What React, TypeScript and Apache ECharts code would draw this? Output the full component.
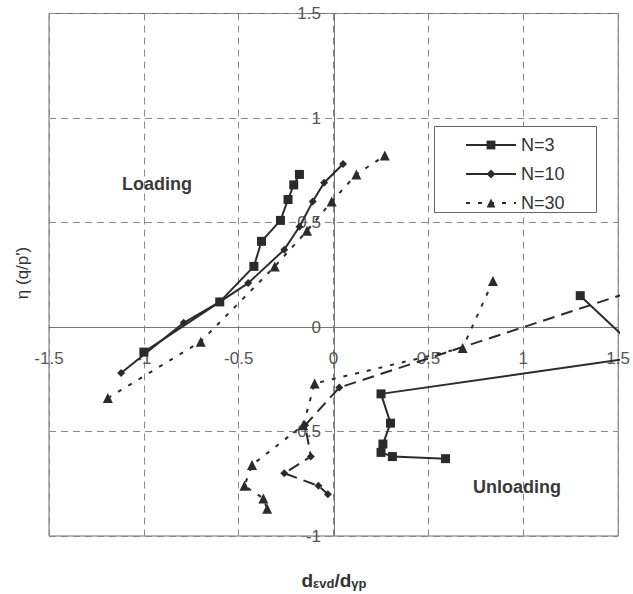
import React, { useEffect, useRef } from "react";
import * as echarts from "echarts";

// Each point: [dεvd/dγp, η]
const n3Loading = [
  [-1.0, -0.12], [-0.6, 0.12], [-0.42, 0.29], [-0.38, 0.41],
  [-0.28, 0.51], [-0.24, 0.61], [-0.21, 0.68], [-0.18, 0.73],
];
const n3Unloading = [
  [1.3, 0.15], [1.64, -0.14], [0.25, -0.32], [0.3, -0.46],
  [0.26, -0.56], [0.25, -0.6], [0.31, -0.62], [0.59, -0.63],
];
const n10Loading = [
  [-1.12, -0.22], [-0.79, 0.02], [-0.6, 0.12], [-0.45, 0.21], [-0.26, 0.37],
  [-0.18, 0.48], [-0.11, 0.6], [-0.05, 0.69], [0.05, 0.78],
];
const n10Unloading = [
  [1.64, 0.19], [0.03, -0.29], [-0.15, -0.47], [-0.12, -0.62],
  [-0.26, -0.7], [-0.08, -0.76], [-0.03, -0.8],
];
const n30Loading = [
  [-1.19, -0.34], [-0.7, -0.07], [-0.31, 0.29], [-0.14, 0.46],
  [-0.01, 0.6], [0.12, 0.73], [0.27, 0.82],
];
const n30Unloading = [
  [0.84, 0.22], [0.68, -0.1], [-0.1, -0.27], [-0.16, -0.47],
  [-0.43, -0.66], [-0.47, -0.76], [-0.37, -0.82], [-0.35, -0.87],
];

const seriesNames = ["N=3", "N=10", "N=30"];
const regionLabels = ["Loading", "Unloading"];

const X_MIN = -1.5;
const X_MAX = 1.5;
const Y_MIN = -1;
const Y_MAX = 1.5;

const INK = "#2b2b2b";
const FONT = '"Liberation Sans", Arial, sans-serif';

// plot box in pixels
const GRID = { left: 49, right: 14, top: 13.5, bottom: 58 };
const W = 633;
const H = 594;

function lineSeries(
  name: string,
  data: number[][],
  symbol: string,
  symbolSize: number,
  type: any
) {
  return {
    name,
    type: "line",
    data,
    symbol,
    symbolSize,
    showSymbol: true,
    clip: true,
    lineStyle: { color: INK, width: 2, type },
    itemStyle: { color: INK, borderWidth: 0 },
    emphasis: { disabled: true },
  };
}

export default function App() {
  const ref = useRef<HTMLDivElement>(null);

  useEffect(() => {
    if (!ref.current) return;
    const chart = echarts.init(ref.current, undefined, { renderer: "svg" });

    const dotted = [4, 8];
    const longDash = [12, 7];

    // Both axes cross at the origin: shift each axis in from the plot edge
    const plotW = W - GRID.left - GRID.right;
    const plotH = H - GRID.top - GRID.bottom;
    const xAxisOffset = -plotH * ((0 - Y_MIN) / (Y_MAX - Y_MIN));
    const yAxisOffset = -plotW * ((0 - X_MIN) / (X_MAX - X_MIN));

    chart.setOption({
      animation: false,
      backgroundColor: "#ffffff",
      grid: {
        ...GRID,
        show: true,
        borderColor: "#6e6e6e",
        borderWidth: 1,
        backgroundColor: "transparent",
      },
      xAxis: {
        type: "value",
        position: "bottom",
        offset: xAxisOffset,
        min: X_MIN,
        max: X_MAX,
        interval: 0.5,
        axisLine: { onZero: false, lineStyle: { color: "#777", width: 1 } },
        axisTick: { show: false },
        axisLabel: {
          margin: 23,
          color: "#555",
          fontSize: 17,
          fontFamily: FONT,
        },
        splitLine: {
          show: true,
          lineStyle: { color: "#8a8a8a", width: 1, type: [7, 5] },
        },
      },
      yAxis: {
        type: "value",
        position: "left",
        offset: yAxisOffset,
        min: Y_MIN,
        max: Y_MAX,
        interval: 0.5,
        axisLine: { onZero: false, lineStyle: { color: "#777", width: 1 } },
        axisTick: { show: false },
        axisLabel: {
          margin: 13,
          color: "#555",
          fontSize: 17,
          fontFamily: FONT,
        },
        splitLine: {
          show: true,
          lineStyle: { color: "#8a8a8a", width: 1, type: [7, 5] },
        },
      },
      legend: {
        data: seriesNames,
        orient: "vertical",
        left: 465,
        top: 136,
        itemWidth: 50,
        itemHeight: 11,
        itemGap: 11,
        padding: 0,
        selectedMode: false,
        textStyle: { color: "#333", fontSize: 18, fontFamily: FONT },
        z: 5,
      },
      graphic: [
        {
          type: "rect",
          z: 4,
          shape: { x: 434.5, y: 126.5, width: 162, height: 86 },
          style: { fill: "#ffffff", stroke: "#666", lineWidth: 1 },
        },
        {
          type: "text",
          x: 157,
          y: 184,
          style: {
            text: regionLabels[0],
            fill: "#3a3a3a",
            font: `bold 18px ${FONT}`,
            align: "center",
            verticalAlign: "middle",
          },
        },
        {
          type: "text",
          x: 517,
          y: 487,
          style: {
            text: regionLabels[1],
            fill: "#3a3a3a",
            font: `bold 18px ${FONT}`,
            align: "center",
            verticalAlign: "middle",
          },
        },
        {
          type: "text",
          x: 22,
          y: 273,
          rotation: Math.PI / 2,
          style: {
            text: "η (q/p')",
            fill: "#333",
            font: `17px ${FONT}`,
            align: "center",
            verticalAlign: "middle",
          },
        },
        {
          type: "text",
          x: 334,
          y: 580,
          style: {
            text: "{a|d}{b|εvd}{a|/d}{b|γp}",
            align: "center",
            verticalAlign: "middle",
            rich: {
              a: {
                fontSize: 19,
                fontWeight: "bold",
                fontFamily: FONT,
                fill: "#333",
                verticalAlign: "top",
                lineHeight: 19,
              },
              b: {
                fontSize: 13,
                fontWeight: "bold",
                fontFamily: FONT,
                fill: "#333",
                verticalAlign: "bottom",
                lineHeight: 13,
                padding: [10, 0, 0, 0],
              },
            },
          },
        },
      ],
      series: [
        lineSeries("N=3", n3Loading, "rect", 9, "solid"),
        lineSeries("N=10", n10Loading, "diamond", 8, "solid"),
        lineSeries("N=30", n30Loading, "triangle", 10, dotted),
        lineSeries("N=3", n3Unloading, "rect", 9, "solid"),
        lineSeries("N=10", n10Unloading, "diamond", 8, longDash),
        lineSeries("N=30", n30Unloading, "triangle", 10, dotted),
      ],
    });

    return () => chart.dispose();
  }, []);

  return (
    <div
      ref={ref}
      style={{ position: "fixed", left: 0, top: 0, width: W, height: H }}
    />
  );
}
